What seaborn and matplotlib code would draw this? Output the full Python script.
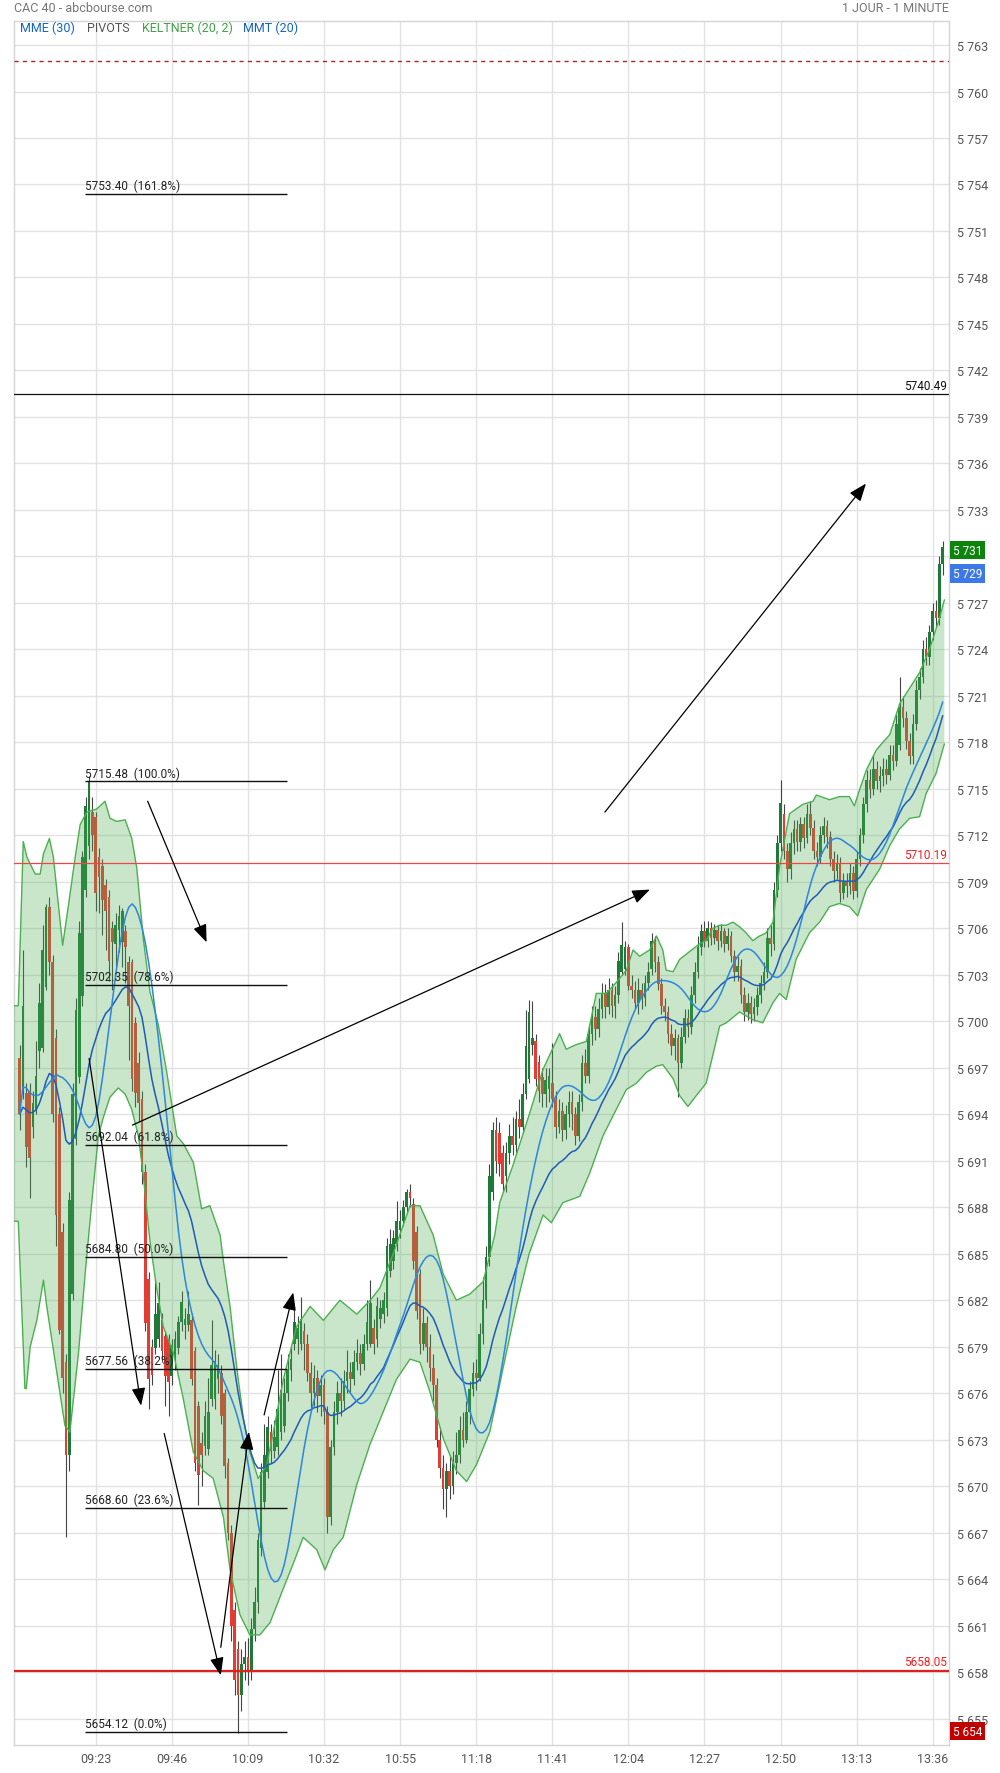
import matplotlib
matplotlib.use("Agg")
import numpy as np
import pandas as pd
import matplotlib.pyplot as plt
import seaborn as sns

# ---------------- data (1-minute candles, CAC 40) ----------------
first_minute = 0  # minutes after 09:00 of the first candle

opens = [
    5697.6, 5695.7, 5695.4, 5695.5, 5693.2, 5694.2, 5698.1, 5698.3, 5702.2, 5707.4,
    5703.8, 5698.9, 5694.0, 5686.4, 5678.0, 5672.0, 5682.4, 5692.4, 5696.4, 5701.6,
    5708.5, 5711.3, 5713.5, 5713.2, 5710.6, 5710.0, 5708.8, 5708.0, 5706.0, 5705.0,
    5705.9, 5705.1, 5705.8, 5703.8, 5703.8, 5699.9, 5697.3, 5695.0, 5690.3, 5683.4,
    5679.0, 5678.9, 5679.5, 5680.7, 5679.7, 5679.5, 5677.1, 5678.2, 5678.9, 5680.6,
    5680.4, 5680.4, 5680.7, 5678.7, 5675.2, 5672.8, 5672.6, 5672.4, 5675.6, 5675.6,
    5676.9, 5677.3, 5676.0, 5671.5, 5667.0, 5662.0, 5659.5, 5656.5, 5658.5, 5659.0,
    5658.0, 5660.8, 5662.5, 5666.0, 5669.0, 5670.9, 5673.5, 5672.3, 5672.5, 5673.5,
    5673.9, 5676.0, 5677.5, 5679.2, 5679.5, 5679.2, 5680.0, 5679.2, 5677.3, 5676.0,
    5677.0, 5675.8, 5676.5, 5674.8, 5668.0, 5672.5, 5674.8, 5676.0, 5675.5, 5676.8,
    5677.4, 5676.9, 5678.0, 5678.6, 5677.9, 5679.2, 5679.2, 5680.2, 5679.5, 5680.8,
    5681.1, 5681.5, 5683.9, 5684.5, 5685.6, 5686.5, 5687.1, 5688.0, 5689.0, 5688.2,
    5686.4, 5683.7, 5679.2, 5680.5, 5679.0, 5677.6, 5676.5, 5673.0, 5671.2, 5669.8,
    5671.0, 5670.0, 5671.5, 5672.0, 5673.6, 5673.0, 5674.8, 5676.3, 5677.3, 5677.0,
    5679.8, 5682.0, 5684.8, 5689.0, 5693.0, 5692.8, 5691.5, 5690.0, 5691.5, 5692.6,
    5692.0, 5693.7, 5693.2, 5695.3, 5696.3, 5698.5, 5698.7, 5697.4, 5696.4, 5695.3,
    5695.6, 5696.0, 5695.0, 5693.2, 5694.2, 5693.0, 5694.0, 5694.8, 5694.0, 5692.6,
    5694.8, 5697.3, 5696.5, 5699.2, 5700.3, 5699.5, 5700.8, 5701.8, 5700.9, 5702.0,
    5701.0, 5701.7, 5703.2, 5703.4, 5704.8, 5702.3, 5702.0, 5701.2, 5702.0, 5701.5,
    5702.5, 5703.4, 5705.2, 5703.8, 5702.4, 5701.0, 5700.6, 5699.2, 5698.4, 5698.9,
    5697.3, 5699.0, 5700.2, 5699.6, 5701.7, 5703.2, 5704.8, 5705.8, 5705.2, 5706.0,
    5705.4, 5705.9, 5705.2, 5705.8, 5705.0, 5705.5, 5704.2, 5703.2, 5703.6, 5701.7,
    5700.6, 5701.2, 5700.5, 5700.9, 5701.7, 5702.5, 5703.2, 5705.4, 5705.0, 5708.5,
    5711.5, 5713.4, 5711.0, 5709.8, 5711.5, 5712.4, 5711.6, 5712.7, 5711.8, 5713.4,
    5712.5, 5711.0, 5710.6, 5712.0, 5712.6, 5711.9, 5710.5, 5709.7, 5710.2, 5708.3,
    5709.0, 5708.7, 5709.6, 5708.4, 5710.5, 5712.0, 5714.0, 5715.6, 5715.0, 5716.3,
    5715.5, 5715.8, 5716.3, 5715.9, 5717.2, 5716.8, 5717.8, 5720.3, 5719.6, 5718.1,
    5717.1, 5719.2, 5721.4, 5722.2, 5724.0, 5723.5, 5725.1, 5726.5, 5726.0, 5729.5,
]

closes = [
    5694.0, 5701.0, 5691.9, 5691.2, 5694.7, 5696.5, 5701.2, 5704.6, 5707.4, 5703.8,
    5694.0, 5687.5, 5680.1, 5677.0, 5672.0, 5688.5, 5695.3, 5700.7, 5705.7, 5710.6,
    5713.9, 5715.5, 5712.0, 5708.3, 5709.3, 5707.8, 5707.1, 5703.9, 5705.1, 5706.2,
    5706.8, 5707.1, 5704.8, 5701.0, 5696.3, 5695.4, 5694.7, 5690.3, 5680.5, 5676.9,
    5677.2, 5681.1, 5681.8, 5678.7, 5677.1, 5676.7, 5679.1, 5679.5, 5680.6, 5681.9,
    5680.8, 5681.1, 5676.9, 5671.5, 5670.7, 5672.0, 5674.5, 5674.8, 5677.8, 5678.1,
    5677.8, 5674.5, 5671.3, 5667.0, 5661.0, 5657.5, 5656.5, 5658.5, 5659.0, 5658.0,
    5660.8, 5662.5, 5666.5, 5670.9, 5672.0, 5673.8, 5672.3, 5673.2, 5675.0, 5676.2,
    5676.0, 5677.5, 5678.2, 5680.6, 5680.2, 5680.8, 5679.2, 5677.3, 5676.0, 5677.0,
    5675.8, 5676.5, 5674.8, 5668.0, 5672.5, 5674.8, 5676.0, 5675.5, 5676.8, 5677.4,
    5676.9, 5678.0, 5678.6, 5677.9, 5679.2, 5680.6, 5681.8, 5679.2, 5681.6, 5681.5,
    5682.0, 5685.5, 5685.6, 5686.0, 5687.1, 5687.1, 5688.0, 5689.0, 5688.6, 5684.5,
    5681.3, 5679.2, 5680.5, 5679.0, 5677.6, 5676.5, 5673.0, 5671.2, 5669.8, 5671.0,
    5670.0, 5671.5, 5672.0, 5673.6, 5673.0, 5674.8, 5676.3, 5677.3, 5677.0, 5679.8,
    5682.0, 5684.8, 5690.0, 5693.0, 5691.0, 5690.8, 5689.5, 5691.5, 5692.6, 5692.0,
    5693.7, 5693.2, 5695.3, 5698.4, 5700.6, 5698.9, 5696.3, 5695.5, 5695.3, 5696.2,
    5696.5, 5695.0, 5693.2, 5694.2, 5693.0, 5694.0, 5694.8, 5694.0, 5692.6, 5694.8,
    5697.3, 5696.5, 5699.2, 5700.3, 5699.5, 5700.8, 5701.8, 5700.9, 5702.0, 5701.0,
    5701.7, 5703.9, 5704.9, 5704.8, 5702.3, 5702.0, 5701.2, 5702.0, 5701.5, 5702.5,
    5703.2, 5705.2, 5703.8, 5702.4, 5701.0, 5700.6, 5699.2, 5698.4, 5698.9, 5697.3,
    5699.0, 5700.2, 5699.6, 5701.7, 5703.2, 5704.8, 5705.8, 5705.2, 5706.0, 5705.4,
    5705.9, 5705.2, 5705.8, 5705.0, 5705.5, 5704.2, 5703.2, 5703.6, 5701.7, 5700.6,
    5701.2, 5700.5, 5700.9, 5701.7, 5702.5, 5703.2, 5705.4, 5705.0, 5708.5, 5711.5,
    5714.1, 5711.0, 5709.8, 5711.5, 5712.4, 5711.6, 5712.7, 5711.8, 5713.4, 5712.5,
    5711.0, 5710.6, 5712.0, 5712.6, 5711.9, 5710.5, 5709.7, 5710.2, 5708.3, 5709.0,
    5708.7, 5709.6, 5708.4, 5710.5, 5712.0, 5714.0, 5715.6, 5715.0, 5716.3, 5715.5,
    5715.8, 5716.3, 5715.9, 5717.2, 5716.8, 5719.2, 5720.3, 5719.6, 5718.1, 5717.1,
    5719.2, 5721.4, 5722.2, 5724.0, 5723.5, 5725.1, 5726.5, 5726.0, 5729.5, 5730.6,
]

highs = [
    5698.5, 5704.6, 5696.0, 5696.0, 5695.5, 5698.7, 5702.5, 5706.2, 5707.6, 5708.0,
    5704.3, 5699.5, 5694.5, 5687.0, 5678.5, 5689.0, 5696.0, 5701.5, 5706.5, 5711.0,
    5714.5, 5715.8, 5714.5, 5713.5, 5711.2, 5710.5, 5709.2, 5708.5, 5706.5, 5707.0,
    5707.5, 5707.3, 5706.2, 5704.2, 5704.0, 5700.3, 5698.0, 5695.5, 5690.8, 5683.8,
    5679.5, 5683.4, 5683.2, 5681.2, 5680.0, 5679.8, 5679.5, 5680.0, 5681.0, 5682.6,
    5681.5, 5682.6, 5681.2, 5679.0, 5675.5, 5673.5, 5675.5, 5677.0, 5680.7, 5678.8,
    5678.5, 5677.8, 5676.3, 5671.8, 5667.5, 5662.5, 5660.0, 5659.5, 5660.0, 5660.2,
    5661.5, 5663.5, 5667.0, 5671.5, 5674.0, 5674.5, 5674.0, 5674.3, 5677.5, 5678.5,
    5677.0, 5678.5, 5679.0, 5681.6, 5681.0, 5682.2, 5680.5, 5679.8, 5678.0, 5677.8,
    5677.5, 5677.2, 5677.0, 5675.2, 5673.0, 5675.5, 5676.8, 5677.0, 5677.5, 5678.8,
    5678.0, 5678.8, 5679.5, 5679.2, 5679.8, 5682.0, 5683.3, 5680.8, 5682.2, 5682.0,
    5682.5, 5686.0, 5686.6, 5686.5, 5688.4, 5687.8, 5688.5, 5689.2, 5689.5, 5688.6,
    5686.8, 5684.0, 5681.5, 5681.0, 5679.8, 5678.5, 5677.0, 5673.8, 5672.0, 5671.5,
    5672.0, 5672.3, 5673.5, 5674.5, 5674.8, 5675.5, 5676.8, 5678.0, 5678.2, 5680.5,
    5683.5, 5685.5, 5690.8, 5693.5, 5693.8, 5693.5, 5692.0, 5692.2, 5693.4, 5693.8,
    5694.2, 5695.0, 5696.0, 5700.7, 5701.4, 5701.3, 5699.2, 5697.8, 5697.0, 5697.0,
    5697.0, 5698.6, 5695.5, 5695.0, 5694.8, 5694.6, 5695.5, 5695.5, 5694.5, 5695.3,
    5697.8, 5698.2, 5699.8, 5701.0, 5701.0, 5701.5, 5702.5, 5702.4, 5702.8, 5702.5,
    5702.3, 5704.5, 5706.4, 5705.2, 5705.0, 5703.0, 5702.6, 5702.8, 5702.5, 5703.0,
    5703.8, 5705.7, 5705.5, 5704.2, 5702.8, 5701.5, 5701.0, 5699.8, 5699.5, 5699.2,
    5699.6, 5700.8, 5700.8, 5702.3, 5703.8, 5705.5, 5706.3, 5706.5, 5706.5, 5706.4,
    5706.3, 5706.2, 5706.3, 5706.0, 5706.0, 5705.8, 5704.6, 5704.2, 5704.0, 5702.2,
    5701.8, 5701.6, 5701.5, 5702.2, 5703.0, 5703.8, 5706.0, 5706.2, 5709.0, 5712.0,
    5715.6, 5714.0, 5711.5, 5712.2, 5713.0, 5713.0, 5713.2, 5713.2, 5714.0, 5714.2,
    5713.0, 5711.6, 5712.6, 5713.2, 5713.0, 5712.3, 5711.0, 5710.8, 5710.6, 5709.6,
    5709.6, 5710.2, 5710.0, 5711.0, 5712.5, 5714.5, 5716.2, 5716.3, 5717.2, 5716.8,
    5716.5, 5717.0, 5716.9, 5717.8, 5717.8, 5719.8, 5722.2, 5721.0, 5720.0, 5718.6,
    5719.8, 5722.0, 5722.8, 5724.6, 5724.8, 5725.6, 5727.0, 5727.2, 5730.0, 5731.0,
]

lows = [
    5693.0, 5695.0, 5690.6, 5688.6, 5692.5, 5694.0, 5697.0, 5698.0, 5702.0, 5703.0,
    5693.5, 5685.5, 5679.8, 5676.0, 5666.7, 5671.0, 5682.0, 5692.0, 5696.0, 5701.0,
    5708.0, 5710.5, 5711.0, 5707.1, 5707.0, 5705.6, 5704.6, 5702.6, 5702.0, 5703.5,
    5704.5, 5703.5, 5702.5, 5697.5, 5695.5, 5694.5, 5693.5, 5689.5, 5680.0, 5675.0,
    5676.5, 5678.5, 5679.0, 5678.0, 5675.2, 5674.5, 5676.5, 5677.5, 5678.5, 5680.0,
    5679.5, 5680.0, 5676.5, 5671.0, 5668.8, 5670.0, 5672.0, 5672.0, 5675.2, 5675.0,
    5676.0, 5674.0, 5670.5, 5666.5, 5660.0, 5656.5, 5654.1, 5655.5, 5657.5, 5657.2,
    5657.5, 5660.0, 5661.8, 5665.5, 5668.5, 5670.5, 5671.5, 5671.8, 5672.0, 5673.0,
    5673.5, 5675.5, 5676.8, 5678.8, 5678.5, 5678.8, 5677.5, 5676.8, 5675.0, 5675.2,
    5674.8, 5674.5, 5674.0, 5667.0, 5667.5, 5672.0, 5674.0, 5674.5, 5675.0, 5676.0,
    5676.0, 5676.5, 5677.5, 5677.2, 5677.5, 5678.8, 5679.0, 5678.5, 5679.0, 5680.2,
    5680.5, 5681.0, 5683.5, 5684.0, 5685.2, 5686.0, 5686.8, 5687.6, 5688.0, 5684.0,
    5680.8, 5678.5, 5678.8, 5678.0, 5676.8, 5675.5, 5672.5, 5670.5, 5668.5, 5668.0,
    5669.2, 5669.5, 5670.8, 5671.5, 5672.5, 5672.8, 5674.0, 5675.8, 5676.2, 5676.8,
    5679.2, 5681.5, 5684.2, 5688.5, 5690.2, 5690.0, 5689.0, 5689.0, 5690.8, 5691.4,
    5691.5, 5692.5, 5692.8, 5695.0, 5696.0, 5697.8, 5695.8, 5694.8, 5694.5, 5694.5,
    5694.8, 5694.5, 5692.5, 5692.8, 5692.3, 5692.4, 5693.2, 5693.0, 5692.0, 5692.3,
    5694.2, 5696.0, 5696.0, 5698.5, 5698.8, 5699.0, 5700.2, 5700.2, 5700.5, 5700.3,
    5700.2, 5701.2, 5703.0, 5703.0, 5702.0, 5701.5, 5700.8, 5700.5, 5700.8, 5701.0,
    5702.0, 5703.0, 5703.2, 5702.0, 5700.5, 5700.0, 5698.6, 5697.8, 5697.5, 5695.1,
    5697.0, 5698.6, 5699.0, 5699.2, 5701.2, 5702.8, 5704.3, 5704.8, 5704.8, 5704.9,
    5705.0, 5704.6, 5704.8, 5704.5, 5704.6, 5703.8, 5702.6, 5702.6, 5701.2, 5700.0,
    5700.1, 5699.9, 5700.0, 5700.4, 5701.2, 5702.0, 5702.8, 5704.2, 5704.6, 5708.0,
    5711.0, 5710.5, 5709.0, 5709.2, 5710.8, 5711.0, 5711.0, 5711.2, 5711.5, 5712.0,
    5710.5, 5710.0, 5710.2, 5711.5, 5711.2, 5710.0, 5709.0, 5709.2, 5707.7, 5707.9,
    5708.0, 5708.2, 5707.9, 5708.0, 5710.0, 5711.5, 5713.5, 5714.4, 5714.6, 5715.0,
    5714.8, 5715.2, 5715.3, 5715.6, 5716.2, 5716.5, 5717.5, 5719.0, 5717.6, 5716.6,
    5716.6, 5718.8, 5720.8, 5721.8, 5723.0, 5723.0, 5724.6, 5725.5, 5725.6, 5728.8,
]

# Keltner (20, 2) band edges (minute, price)
kelt_up_t = [-1.7, -0.4, 1.1, 2.2, 4.7, 6.2, 7.2, 9.0, 10.2, 13.0, 14.7, 16.8, 18.3,
             20.3, 23.3, 25.8, 27.3, 29.3, 31.9, 33.9, 35.4, 37.4, 39.4, 41.9, 44.4,
             47.5, 49.5, 52.5, 55.0, 57.5, 60.6, 61.6, 63.6, 65.6, 67.6, 69.6, 72.1,
             74.7, 76.7, 79.7, 83.7, 87.8, 91.8, 96.8, 101.9, 106.0, 108.9, 112.9,
             118.0, 121.0, 125.0, 128.0, 132.0, 136.1, 140.1, 143.6, 145.1, 149.1,
             154.2, 158.2, 163.2, 165.2, 168.3, 171.3, 174.3, 177.3, 180.3, 183.4,
             185.4, 187.4, 190.4, 192.5, 194.4, 195.4, 197.5, 199.5, 202.5, 205.5,
             207.5, 209.5, 211.5, 213.6, 215.6, 217.6, 219.6, 221.6, 223.6, 225.6,
             227.7, 229.7, 232.7, 236.7, 239.8, 240.8, 244.8, 247.8, 250.8, 252.3,
             253.8, 255.9, 258.9, 260.9, 263.0, 266.0, 269.0, 272.0, 275.0, 278.0, 279.5]
kelt_up = [5701.0, 5701.0, 5711.6, 5710.6, 5709.5, 5709.5, 5710.8, 5711.8, 5710.6, 5704.9,
           5707.4, 5710.6, 5712.7, 5713.5, 5713.7, 5714.2, 5713.1, 5712.9, 5713.0, 5711.8,
           5709.9, 5705.3, 5701.9, 5699.8, 5696.8, 5692.6, 5692.1, 5690.9, 5687.9, 5688.1,
           5686.2, 5684.5, 5681.6, 5677.7, 5674.4, 5672.2, 5670.5, 5671.4, 5673.5, 5676.9,
           5680.3, 5681.6, 5680.7, 5682.0, 5681.1, 5682.0, 5682.8, 5685.0, 5688.1, 5688.1,
           5686.2, 5683.7, 5682.0, 5682.4, 5683.2, 5686.2, 5688.3, 5690.7, 5694.1, 5696.9,
           5699.2, 5698.2, 5698.5, 5698.7, 5701.8, 5701.8, 5702.5, 5703.3, 5704.6, 5704.2,
           5704.6, 5705.5, 5704.6, 5703.3, 5703.2, 5704.0, 5704.5, 5705.0, 5705.2, 5706.0,
           5706.2, 5706.2, 5706.4, 5706.1, 5705.7, 5705.2, 5705.5, 5705.7, 5706.4, 5710.0,
           5713.4, 5714.0, 5714.2, 5714.6, 5714.3, 5714.5, 5714.5, 5713.9, 5714.9, 5716.2,
           5717.5, 5718.0, 5718.5, 5720.5, 5721.5, 5722.5, 5724.0, 5726.0, 5727.2]
kelt_dn_t = [-1.7, -0.4, 1.6, 2.0, 3.2, 5.2, 7.2, 8.2, 9.7, 12.2, 13.7, 15.2, 17.8, 19.8,
             21.8, 23.8, 25.3, 27.3, 29.8, 31.9, 33.9, 35.9, 37.4, 39.4, 41.4, 43.4, 46.5,
             49.5, 52.5, 55.5, 58.5, 61.6, 63.6, 66.6, 69.6, 72.6, 75.7, 79.7, 82.7, 85.7,
             89.8, 92.3, 94.8, 97.8, 101.9, 105.9, 109.9, 113.9, 118.0, 121.0, 124.0,
             128.0, 132.0, 135.1, 138.1, 142.1, 146.0, 150.0, 154.0, 158.2, 160.7, 164.2,
             169.3, 172.3, 176.3, 180.3, 183.4, 186.4, 189.4, 192.4, 194.4, 197.5, 199.5,
             202.0, 204.5, 207.5, 209.5, 211.6, 213.6, 217.6, 221.6, 224.6, 227.7, 229.7,
             231.7, 234.7, 238.7, 241.8, 244.8, 247.8, 250.8, 253.3, 255.9, 259.9, 262.9,
             265.9, 269.0, 272.0, 274.0, 277.0, 279.5]
kelt_dn = [5687.1, 5687.1, 5676.3, 5676.3, 5679.0, 5680.7, 5683.3, 5681.6, 5679.5, 5676.0,
           5673.9, 5673.5, 5678.6, 5683.7, 5688.3, 5692.6, 5693.8, 5695.1, 5695.7, 5695.3,
           5694.3, 5692.6, 5690.0, 5685.8, 5682.8, 5680.3, 5678.6, 5675.6, 5672.2, 5671.0,
           5670.5, 5668.0, 5664.6, 5661.7, 5660.4, 5660.4, 5661.2, 5663.4, 5665.0, 5666.7,
           5665.9, 5664.6, 5665.9, 5666.7, 5670.1, 5672.7, 5674.8, 5676.9, 5678.2, 5678.0,
           5676.1, 5673.1, 5671.0, 5670.3, 5671.4, 5673.5, 5677.5, 5681.5, 5685.0, 5687.5,
           5687.0, 5688.3, 5688.7, 5690.2, 5692.6, 5694.3, 5695.6, 5696.0, 5696.7, 5697.1,
           5697.2, 5696.3, 5695.2, 5694.5, 5695.2, 5696.0, 5697.8, 5699.7, 5699.9, 5700.6,
           5700.1, 5699.9, 5701.2, 5701.8, 5701.4, 5704.0, 5705.7, 5706.4, 5707.4, 5707.6,
           5707.4, 5706.8, 5708.5, 5709.8, 5711.3, 5712.4, 5713.1, 5713.2, 5714.7, 5716.0,
           5717.9]

time_labels = ["09:23", "09:46", "10:09", "10:32", "10:55", "11:18",
               "11:41", "12:04", "12:27", "12:50", "13:13", "13:36"]

fib_levels = [5753.40, 5715.48, 5702.35, 5692.04, 5684.80, 5677.56, 5668.60, 5654.12]
fib_pcts = ["161.8%", "100.0%", "78.6%", "61.8%", "50.0%", "38.2%", "23.6%", "0.0%"]
fib_span = (19.9, 80.7)  # minutes after 09:00

pivot_black = 5740.49
pivot_red_thin = 5710.19
pivot_red_thick = 5658.05
pivot_dashed = 5762.0

# hand-drawn arrows: (start minute, start price, end minute, end price)
arrows = [
    (38.7, 5714.2, 56.5, 5705.1),
    (21.0, 5697.6, 36.7, 5675.2),
    (43.7, 5673.4, 60.8, 5657.8),
    (60.8, 5659.6, 69.3, 5673.5),
    (73.9, 5674.6, 82.7, 5682.5),
    (34.1, 5693.3, 190.5, 5708.5),
    (176.9, 5713.5, 255.8, 5734.7),
]

# right-hand price boxes (value, label, colour)
price_boxes = [(5730.4, "5 731", "#0d850d"), (5728.9, "5 729", "#3c78e6"),
               (5654.2, "5 654", "#c20000")]

# ---------------- style ----------------
sns.set_theme(style="white")
plt.rcParams["font.family"] = ["Roboto", "DejaVu Sans"]

n = len(closes)
df = pd.DataFrame({"t": np.arange(first_minute, first_minute + n),
                   "open": opens, "high": highs, "low": lows, "close": closes})
df["mme"] = df["close"].ewm(span=30, adjust=False).mean()
df["mmt"] = df["close"].rolling(10, min_periods=1).mean().rolling(11, min_periods=1).mean()

fig = plt.figure(figsize=(10, 17.74), dpi=100)
ax = fig.add_axes([0.014, 0.0158, 0.935, 0.97197])

XMIN, XMAX = -1.7, 280.9
YMIN, YMAX = 5653.3, 5764.57
ax.set_xlim(XMIN, XMAX)
ax.set_ylim(YMIN, YMAX)

# grid / ticks
yt = np.arange(5655, 5764, 3)
ax.set_yticks(yt)
hidden = {int(round(v)) for v, _, _ in price_boxes[:1]}
ax.set_yticklabels(["" if v in hidden else f"{v // 1000} {v % 1000:03d}" for v in yt])
xt = [(int(s[:2]) - 9) * 60 + int(s[3:]) for s in time_labels]
ax.set_xticks(xt)
ax.set_xticklabels(time_labels)
ax.yaxis.tick_right()
ax.tick_params(axis="both", length=0, labelsize=9, labelcolor="#555555")
ax.tick_params(axis="y", pad=6)
ax.tick_params(axis="x", pad=5)
ax.grid(True, color="#e2e2e2", lw=1, zorder=0)
for sp in ax.spines.values():
    sp.set_color("#d4d4d4")
    sp.set_linewidth(1)

# candles
up = df["close"] >= df["open"]
body_lo = np.minimum(df["open"], df["close"])
body_h = np.maximum((df["close"] - df["open"]).abs(), 0.15)
ax.vlines(df["t"], df["low"], df["high"], color="#444444", lw=0.8, zorder=2)
ax.bar(df["t"], body_h, bottom=body_lo, width=0.8,
       color=np.where(up, "#1f7a3a", "#e23d35"), lw=0, zorder=2.5)

# keltner band (translucent, over the candles)
poly_x = np.r_[kelt_up_t, kelt_dn_t[::-1]]
poly_y = np.r_[kelt_up, kelt_dn[::-1]]
ax.fill(poly_x, poly_y, color="#4caf50", alpha=0.3, lw=0, zorder=3)
sns.lineplot(x=kelt_up_t, y=kelt_up, ax=ax, color="#4caf50", lw=1.0, zorder=4)
sns.lineplot(x=kelt_dn_t, y=kelt_dn, ax=ax, color="#4caf50", lw=1.0, zorder=4)
sns.lineplot(data=df, x="t", y="mme", ax=ax, color="#1f5bb8", lw=1.1, zorder=4)
sns.lineplot(data=df, x="t", y="mmt", ax=ax, color="#2c86dc", lw=1.1, zorder=4)
ax.set_xlabel("")
ax.set_ylabel("")

# pivot lines
ax.axhline(pivot_black, color="#111111", lw=0.9, zorder=5)
ax.axhline(pivot_red_thin, color="#f04545", lw=0.9, zorder=5)
ax.axhline(pivot_red_thick, color="#e02020", lw=1.6, zorder=5)
ax.axhline(pivot_dashed, color="#a52a2a", lw=1.0, ls=(0, (3, 3)), zorder=5)
lab_x = XMAX - 0.6
ax.text(lab_x, pivot_black + 0.15, f"{pivot_black:.2f}", ha="right", va="bottom",
        fontsize=8.5, color="#111111", zorder=6)
ax.text(lab_x, pivot_red_thin + 0.15, f"{pivot_red_thin:.2f}", ha="right", va="bottom",
        fontsize=8.5, color="#f02020", zorder=6)
ax.text(lab_x, pivot_red_thick + 0.2, f"{pivot_red_thick:.2f}", ha="right", va="bottom",
        fontsize=8.5, color="#f02020", zorder=6)

# fibonacci levels
ax.hlines(fib_levels, fib_span[0], fib_span[1], color="#111111", lw=1.0, zorder=5)
for lv, pc in zip(fib_levels, fib_pcts):
    ax.text(fib_span[0], lv + 0.12, f"{lv:.2f}  ({pc})", ha="left", va="bottom",
            fontsize=8.5, color="#222222", zorder=6)

# arrows
for x0, y0, x1, y1 in arrows:
    ax.annotate("", xy=(x1, y1), xytext=(x0, y0), zorder=6,
                arrowprops=dict(arrowstyle="-|>,head_length=0.9,head_width=0.35",
                                color="black", lw=0.9, shrinkA=0, shrinkB=0,
                                mutation_scale=12))

# price boxes on the right axis
tr_y = ax.get_yaxis_transform()
for val, lab, colr in price_boxes:
    ax.text(1.004, val, lab, transform=tr_y, ha="left", va="center", fontsize=8.5,
            color="white", clip_on=False, zorder=7,
            bbox=dict(boxstyle="square,pad=0.22", fc=colr, ec="none"))

# header texts
fig.text(0.0136, 0.9952, "CAC 40 - abcbourse.com", fontsize=9, color="#777777", va="center")
fig.text(0.949, 0.9952, "1 JOUR - 1 MINUTE", fontsize=9, color="#777777", va="center", ha="right")
legend_items = [("MME (30)", "#1565c0", 0.0203), ("PIVOTS", "#555555", 0.087),
                ("KELTNER (20, 2)", "#43a047", 0.1424), ("MMT (20)", "#1565c0", 0.243)]
for txt, colr, xx in legend_items:
    fig.text(xx, 0.9842, txt, fontsize=9, color=colr, va="center", ha="left")

fig.savefig("out.png", dpi=100)
